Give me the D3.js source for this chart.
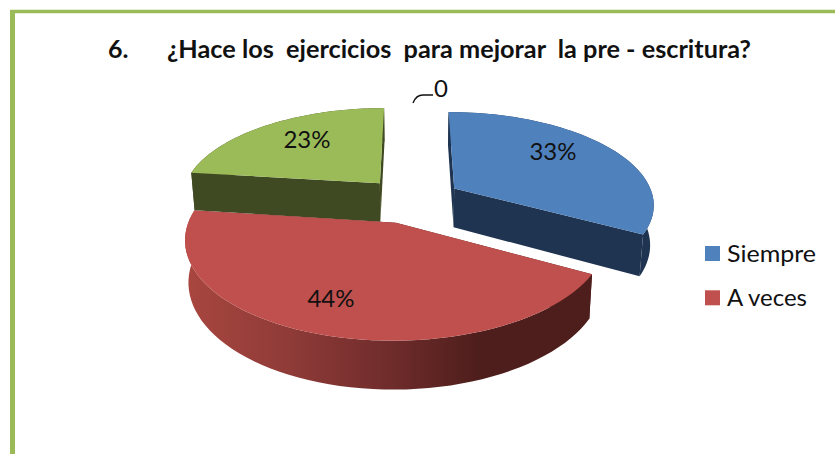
<!DOCTYPE html>
<html><head><meta charset="utf-8">
<script src="https://cdn.jsdelivr.net/npm/d3@7"></script>
<style>html,body{margin:0;padding:0;background:#fff;overflow:hidden}svg{display:block}text{font-family:Lato,"Open Sans",sans-serif;fill:#111}</style>
</head><body><svg id="c" width="835" height="454"></svg>
<script>
const categories = ["Siempre","A veces","Otro","Nunca"];
const values = [33,44,23,0];
const valueLabels = ["33%","44%","23%","0"];
const topColors = ["#4f81bd","#c0504d","#9bbb59","#9bbb59"];
const wallColors = ["#1f3451","#4d1e1c","#404a22","#404a22"];
const legendNames = ["Siempre","A veces"];
const titleNumber = "6.";
const titleText = "¿Hace los  ejercicios  para mejorar  la pre - escritura?";

const W=835,H=454,svg=d3.select("#c");
const cx=412,cy=200,R=200,A=91.7,p=0.156,E=0.25,DEPTH=39.5,SHRINK=0.985;
const sx=d3.scaleLinear().domain([0,1]).range([0,R]);
const sy=d3.scaleLinear().domain([0,1]).range([0,A]);
function proj(X,Y,low){
  const f=1/(1-p*Y);
  const k=low?SHRINK:1;
  return [cx+sx(X)*f*k, cy+sy(Y)*f+(low?DEPTH*f:0)];
}
const pie=d3.pie().sort(null).value(d=>d)(values);
const line=d3.line();
const defs=svg.append("defs");
const g=defs.append("linearGradient").attr("id","redWall").attr("gradientUnits","userSpaceOnUse")
  .attr("x1",188).attr("x2",592).attr("y1",0).attr("y2",0);
[[0,"#a8463f"],[0.25,"#8f3b38"],[0.5,"#6f2c2b"],[0.72,"#4e1e1c"],[1,"#4d1e1c"]].forEach(s=>g.append("stop").attr("offset",s[0]).attr("stop-color",s[1]));

svg.append("path").attr("d",line([[12.5,H],[12.5,11.5]])).attr("fill","none").attr("stroke","#9bbb59").attr("stroke-width",5);
svg.append("path").attr("d",line([[10,11.5],[W,11.5]])).attr("fill","none").attr("stroke","#9bbb59").attr("stroke-width",3.5);

function slice(d,i){
  const a0=d.startAngle,a1=d.endAngle;
  if(a1-a0<1e-6) return;
  const mid=(a0+a1)/2, ox=E*Math.sin(mid), oy=-E*Math.cos(mid);
  const arcPts=low=>d3.range(0,61).map(j=>{const a=a0+(a1-a0)*j/60;return proj(ox+Math.sin(a),oy-Math.cos(a),low)});
  const at=(a,low)=>proj(ox+Math.sin(a),oy-Math.cos(a),low);
  const ap=low=>proj(ox,oy,low);
  const gp=svg.append("g");
  [a0,a1].forEach(a=>{
    gp.append("path").attr("d",line([ap(false),at(a,false),at(a,true),ap(true)])+"Z").attr("fill",wallColors[i]);
  });
  gp.append("path").attr("d",line(arcPts(false).concat(arcPts(true).reverse()))+"Z")
    .attr("fill",i===1?"url(#redWall)":wallColors[i]);
  gp.append("path").attr("d",line([ap(false)].concat(arcPts(false)))+"Z").attr("fill",topColors[i]);
}
[2,0,1].forEach(i=>slice(pie[i],i));

const labelPos=[[553,152],[331,299],[307,140]];
labelPos.forEach((q,i)=>svg.append("text").attr("x",q[0]).attr("y",q[1]+8).attr("text-anchor","middle").attr("font-size",24).text(valueLabels[i]));
svg.append("text").attr("x",441).attr("y",97).attr("text-anchor","middle").attr("font-size",24).text(valueLabels[3]);
svg.append("path").attr("d","M413,103 Q416,95 423,95 L433,95").attr("fill","none").attr("stroke","#111").attr("stroke-width",1.3);

svg.append("text").attr("x",108).attr("y",57.5).attr("font-size",25).attr("font-weight",700).text(titleNumber);
svg.append("text").attr("x",167).attr("y",57.5).attr("font-size",25).attr("font-weight",700).style("white-space","pre")
  .attr("textLength",584).attr("lengthAdjust","spacingAndGlyphs").text(titleText);

const legendWidths=[89,80];
legendNames.forEach((n,i)=>{
  const y=246+i*44.3;
  svg.append("rect").attr("x",705).attr("y",y).attr("width",15).attr("height",15).attr("fill",topColors[i]);
  svg.append("text").attr("x",727).attr("y",y+16).attr("font-size",24)
    .attr("textLength",legendWidths[i]).attr("lengthAdjust","spacingAndGlyphs").text(n);
});
</script></body></html>
